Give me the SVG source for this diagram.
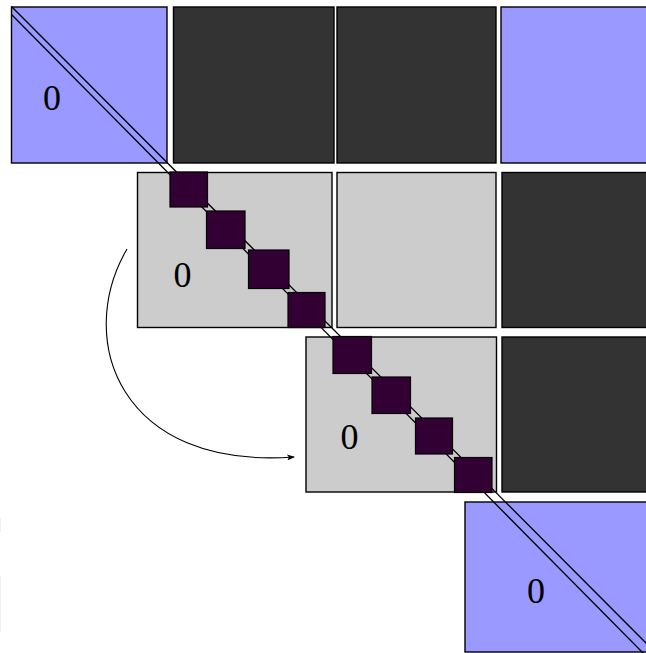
<svg xmlns="http://www.w3.org/2000/svg" width="646" height="653" viewBox="0 0 646 653">
<style>
.blk{stroke:#000;stroke-width:1.4}
.blue{fill:#9999ff}
.dark{fill:#333333}
.gray{fill:#cccccc}
.pur{fill:#330033;stroke:#000;stroke-width:1.2}
.diag{fill:none;stroke:#000;stroke-width:1.3}
.lbl{font-family:"Liberation Serif","Times New Roman",serif;font-size:36px;fill:#000;text-anchor:middle}
.arc{fill:none;stroke:#000;stroke-width:1.1}
</style>
<defs>
<marker id="ah" markerWidth="8" markerHeight="6" refX="7" refY="3" orient="auto" markerUnits="userSpaceOnUse">
<path d="M0,0 L8,3 L0,6 L2,3 Z" fill="#000"/>
</marker>
</defs>
<rect width="646" height="653" fill="#fff"/>
<g id="faint">
<line x1="0.5" y1="518" x2="0.5" y2="532" stroke="#efefef" stroke-width="1"/>
<line x1="0.5" y1="576" x2="0.5" y2="632" stroke="#efefef" stroke-width="1"/>
</g>
<g id="block-r1c1"><rect class="blue blk" x="11.5" y="7" width="155.5" height="156"/></g>
<g id="block-r1c2"><rect class="dark blk" x="173.5" y="7" width="160.5" height="156"/></g>
<g id="block-r1c3"><rect class="dark blk" x="337" y="7" width="159" height="156"/></g>
<g id="block-r1c4"><rect class="blue blk" x="501" y="7" width="160" height="156"/></g>
<g id="block-r2c1"><rect class="gray blk" x="137.5" y="172.5" width="194.5" height="155"/></g>
<g id="block-r2c2"><rect class="gray blk" x="337" y="172.5" width="159" height="155"/></g>
<g id="block-r2c3"><rect class="dark blk" x="502" y="172.5" width="160" height="155"/></g>
<g id="block-r3c1"><rect class="gray blk" x="306" y="337" width="190.5" height="155"/></g>
<g id="block-r3c2"><rect class="dark blk" x="502" y="337" width="160" height="155"/></g>
<g id="block-r4c1"><rect class="blue blk" x="465" y="502" width="200" height="150"/></g>
<g id="connectors">
<line class="diag" x1="11.5" y1="6.5" x2="652" y2="649"/>
<line class="diag" x1="11.5" y1="14.5" x2="646" y2="656"/>
<path class="arc" d="M127,249 C74,340 120,470 294,457" marker-end="url(#ah)"/>
</g>
<g id="diag-blocks">
<rect class="pur" x="170" y="172" width="37.5" height="35"/>
<rect class="pur" x="206.5" y="211" width="38.5" height="37.5"/>
<rect class="pur" x="248.5" y="250" width="40.5" height="38.5"/>
<rect class="pur" x="288" y="292.5" width="37" height="35"/>
<rect class="pur" x="333" y="336.5" width="38.5" height="37"/>
<rect class="pur" x="372" y="377" width="38.5" height="36.5"/>
<rect class="pur" x="415.5" y="418" width="37" height="36"/>
<rect class="pur" x="454.5" y="457.5" width="37.5" height="35"/>
</g>
<g id="labels">
<text class="lbl" x="52" y="110">0</text>
<text class="lbl" x="182.5" y="287">0</text>
<text class="lbl" x="349.5" y="449">0</text>
<text class="lbl" x="536" y="603">0</text>
</g>
</svg>
